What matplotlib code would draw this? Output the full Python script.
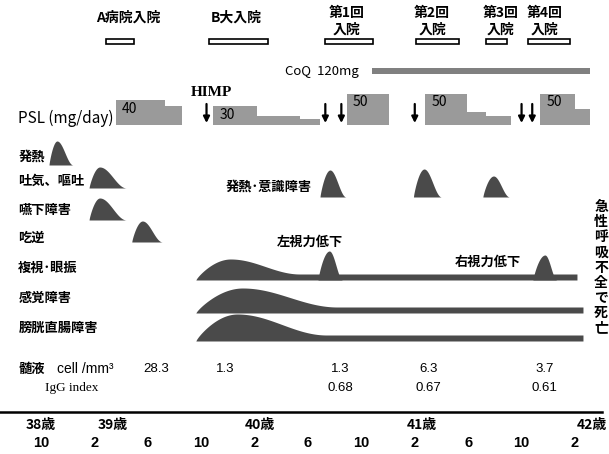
import numpy as np
import matplotlib
matplotlib.use("Agg")
import matplotlib.pyplot as plt
from matplotlib.patches import Rectangle

plt.rcParams['font.family'] = ['Noto Sans CJK JP', 'DejaVu Sans']

# time axis in months, 0 = October at age 38
month_ticks = [0, 4, 8, 12, 16, 20, 24, 28, 32, 36, 40]
month_labels = ["10", "2", "6", "10", "2", "6", "10", "2", "6", "10", "2"]
age_pos = [0, 5.4, 16.4, 28.5, 41.3]
age_labels = ["38歳", "39歳", "40歳", "41歳", "42歳"]

# admissions
adm_labels = ["A病院入院", "B大入院", "第1回\n入院", "第2回\n入院", "第3回\n入院", "第4回\n入院"]
adm_label_t = [6.5, 14.6, 22.9, 29.3, 34.4, 37.75]
adm_start = [4.9, 12.6, 21.3, 28.1, 33.3, 36.5]
adm_end = [7.0, 17.0, 24.9, 31.3, 34.9, 39.6]

coq_start, coq_end = 24.8, 41.1

# PSL courses (step edges in months, doses in mg/day)
psl_edges = [[5.6, 9.3, 10.6], [12.9, 16.2, 19.4, 20.9], [22.9, 26.1],
             [28.8, 31.9, 33.3, 35.2], [37.4, 40.0, 41.1]]
psl_doses = [[40, 30], [30, 15, 10], [50], [50, 20, 15], [50, 25]]
himp_t = 12.4
arrow_t = [21.3, 22.5, 28.0, 36.0, 36.8]

# early symptoms
sym_labels = ["発熱", "吐気、嘔吐", "嚥下障害", "吃逆"]
sym_start = [0.6, 3.6, 3.6, 6.8]
sym_peak = [1.2, 4.4, 4.4, 7.6]
sym_end = [2.4, 6.4, 6.4, 9.1]
sym_height = [24, 21, 22, 21]

# fever / consciousness disturbance episodes
fever_start = [20.9, 27.9, 33.1]
fever_peak = [21.65, 28.7, 33.9]
fever_end = [22.85, 30.0, 35.1]
fever_height = [27, 28, 21]

# long-lasting symptoms
long_labels = ["複視･眼振", "感覚障害", "膀胱直腸障害"]
long_start = [11.6, 11.6, 11.6]
long_peak = [14.2, 15.1, 14.7]
long_fade = [19.4, 22.2, 21.4]
long_end = [40.15, 40.6, 40.6]
long_height = [21, 25, 27]
long_residual = [6, 6, 6]

vision_labels = ["左視力低下", "右視力低下"]
vision_start = [20.75, 36.85]
vision_peak = [21.6, 37.75]
vision_end = [22.6, 38.65]
vision_height = [29, 25]

# CSF
csf_t = [8.6, 13.8, 22.4, 29.0, 37.75]
csf_cells = ["28.3", "1.3", "1.3", "6.3", "3.7"]
igg_t = [22.4, 29.0, 37.75]
igg_index = ["0.68", "0.67", "0.61"]

# layout (pixel rows, y grows downward)
sym_base = [165, 188, 220, 242]
fever_base = 197
long_base = [280, 313, 341]
label_y = [157, 181, 210, 238]
long_label_y = [268, 298, 328]
psl_base, psl_scale = 125, 0.63

hump_col = "#4a4a4a"
psl_col = "#9a9a9a"


def hump(t, t0, tp, t1, h):
    y = np.zeros_like(t)
    up = (t >= t0) & (t <= tp)
    y[up] = h * np.sin(np.pi / 2 * (t[up] - t0) / (tp - t0)) ** 0.8
    dn = (t > tp) & (t <= t1)
    y[dn] = h * (1 + np.cos(np.pi * (t[dn] - tp) / (t1 - tp))) / 2
    return y


def draw_hump(t0, tp, t1, h, base):
    tt = np.linspace(t0, t1, 120)
    ax.fill_between(tt, base, base - hump(tt, t0, tp, t1, h), color=hump_col, lw=0)


fig = plt.figure(figsize=(6.09, 4.54), dpi=100)
ax = fig.add_axes([0, 0, 1, 1])
ax.set_xlim(-3.07, 42.55)
ax.set_ylim(454, 0)
ax.axis("off")
left = ax.get_yaxis_transform()

# admissions
for lab, lt, s, e in zip(adm_labels, adm_label_t, adm_start, adm_end):
    ax.add_patch(Rectangle((s, 39), e - s, 5, fill=False, ec="black", lw=1.2))
    ty = 21 if "\n" in lab else 18
    ax.text(lt, ty, lab, ha="center", va="center", fontsize=10,
            fontweight="bold", linespacing=1.25)

# CoQ
ax.text(-3.07 + 285 / 13.35, 71, "CoQ  120mg", ha="left", va="center", fontsize=9.5)
ax.add_patch(Rectangle((coq_start, 68), coq_end - coq_start, 6, color="#808080", lw=0))

# PSL
ax.text(0.03, 118, "PSL (mg/day)", transform=left, ha="left", va="center", fontsize=11)
for edges, doses in zip(psl_edges, psl_doses):
    edges = np.array(edges)
    h = np.array(doses) * psl_scale
    ax.bar(edges[:-1], -h, width=np.diff(edges), bottom=psl_base, align="edge",
           color=psl_col, lw=0)
    ax.text(edges[0] + 0.45, psl_base - h[0] + 9, str(doses[0]), ha="left",
            va="center", fontsize=10)
ax.text(himp_t - 1.2, 92, "HIMP", family="Liberation Serif", fontweight="bold",
        fontsize=11, ha="left", va="center")
for t in [himp_t] + arrow_t:
    ax.annotate("", xy=(t, 123), xytext=(t, 104),
                arrowprops=dict(arrowstyle="-|>", color="black", lw=1.6,
                                mutation_scale=9, shrinkA=0, shrinkB=0))

# early symptoms
for lab, y, s, p, e, h, b in zip(sym_labels, label_y, sym_start, sym_peak,
                                 sym_end, sym_height, sym_base):
    ax.text(0.03, y, lab, transform=left, ha="left", va="center", fontsize=9.5,
            fontweight="bold")
    draw_hump(s, p, e, h, b)

ax.text(20.3, 187, "発熱･意識障害", ha="right", va="center", fontsize=9.5,
        fontweight="bold")
for s, p, e, h in zip(fever_start, fever_peak, fever_end, fever_height):
    draw_hump(s, p, e, h, fever_base)

# long-lasting symptoms
for lab, y, s, p, f, e, h, r, b in zip(long_labels, long_label_y, long_start,
                                       long_peak, long_fade, long_end,
                                       long_height, long_residual, long_base):
    ax.text(0.03, y, lab, transform=left, ha="left", va="center", fontsize=9.5,
            fontweight="bold")
    tt = np.linspace(s, e, 600)
    yy = np.full_like(tt, float(r))
    up = tt <= p
    yy[up] = h * np.sin(np.pi / 2 * (tt[up] - s) / (p - s)) ** 0.8
    dn = (tt > p) & (tt <= f)
    yy[dn] = r + (h - r) * (1 + np.cos(np.pi * (tt[dn] - p) / (f - p))) / 2
    ax.fill_between(tt, b, b - yy, color=hump_col, lw=0)

for s, p, e, h in zip(vision_start, vision_peak, vision_end, vision_height):
    draw_hump(s, p, e, h, long_base[0])
ax.text(-3.07 + 310 / 13.35, 242, vision_labels[0], ha="center", va="center",
        fontsize=9.5, fontweight="bold")
ax.text(-3.07 + 488 / 13.35, 262, vision_labels[1], ha="center", va="center",
        fontsize=9.5, fontweight="bold")

# death note (vertical)
for i, ch in enumerate("急性呼吸不全で死亡"):
    ax.text(0.987, 207 + 15.2 * i, ch, transform=left, ha="center", va="center",
            fontsize=10, fontweight="bold")

# CSF
ax.text(0.03, 369, "髄液", transform=left, ha="left", va="center", fontsize=9.5,
        fontweight="bold")
ax.text(0.094, 369, "cell /mm³", transform=left, ha="left", va="center",
        fontsize=10, family="Liberation Sans")
ax.text(0.074, 388, "IgG index", transform=left, ha="left", va="center",
        fontsize=9.5, family="Liberation Serif")
for t, v in zip(csf_t, csf_cells):
    ax.text(t, 369, v, ha="center", va="center", fontsize=9.5, family="Liberation Sans")
for t, v in zip(igg_t, igg_index):
    ax.text(t, 388, v, ha="center", va="center", fontsize=9.5, family="Liberation Sans")

# timeline
ax.axhline(412, xmin=0, xmax=0.988, color="black", lw=1.8)
for t, lab in zip(age_pos, age_labels):
    ax.text(t, 425, lab, ha="center", va="center", fontsize=10, fontweight="bold")
for t, lab in zip(month_ticks, month_labels):
    ax.text(t, 443, lab, ha="center", va="center", fontsize=10.5, fontweight="bold",
            family="Liberation Sans")

fig.savefig("out.png", dpi=100)
